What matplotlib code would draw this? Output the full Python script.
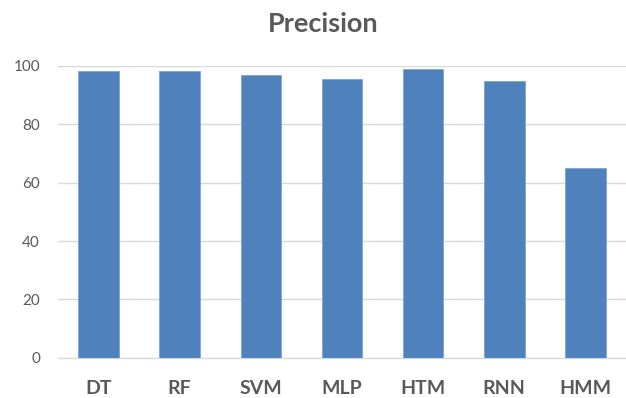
import matplotlib
matplotlib.use("Agg")
import matplotlib.pyplot as plt

models = ["DT", "RF", "SVM", "MLP", "HTM", "RNN", "HMM"]
precision = [98.4, 98.4, 96.9, 95.4, 98.9, 94.9, 64.9]
y_ticks = [0, 20, 40, 60, 80, 100]

bar_color = "#4F81BD"
text_color = "#595959"
grid_color = "#D9D9D9"

fig = plt.figure(figsize=(6.26, 3.98), dpi=100)
ax = fig.add_axes([0.0927, 0.1013, 0.9073, 0.7329])

x = range(len(models))
ax.bar(x, precision, width=0.5, color=bar_color, edgecolor="#7FA3D2",
       linewidth=0.6, zorder=3)

ax.set_xlim(-0.5, len(models) - 0.5)
ax.set_ylim(0, 100)
ax.set_yticks(y_ticks)
ax.set_yticklabels([str(v) for v in y_ticks], fontsize=11,
                   color=text_color, family="Lato")
ax.set_xticks(list(x))
ax.set_xticklabels(models, fontsize=14, fontweight="bold",
                   color=text_color, family="Lato")

ax.yaxis.grid(True, color=grid_color, linewidth=1.0, zorder=0)
ax.set_axisbelow(True)
for side in ["top", "right", "left"]:
    ax.spines[side].set_visible(False)
ax.spines["bottom"].set_color(grid_color)
ax.spines["bottom"].set_linewidth(1.0)
ax.tick_params(axis="both", length=0)
ax.tick_params(axis="y", pad=13)
ax.tick_params(axis="x", pad=16)

fig.text(0.516, 0.920, "Precision", ha="center", va="baseline",
         fontsize=19.5, fontweight="bold", color=text_color, family="Lato")

fig.savefig("out.png", dpi=100)
